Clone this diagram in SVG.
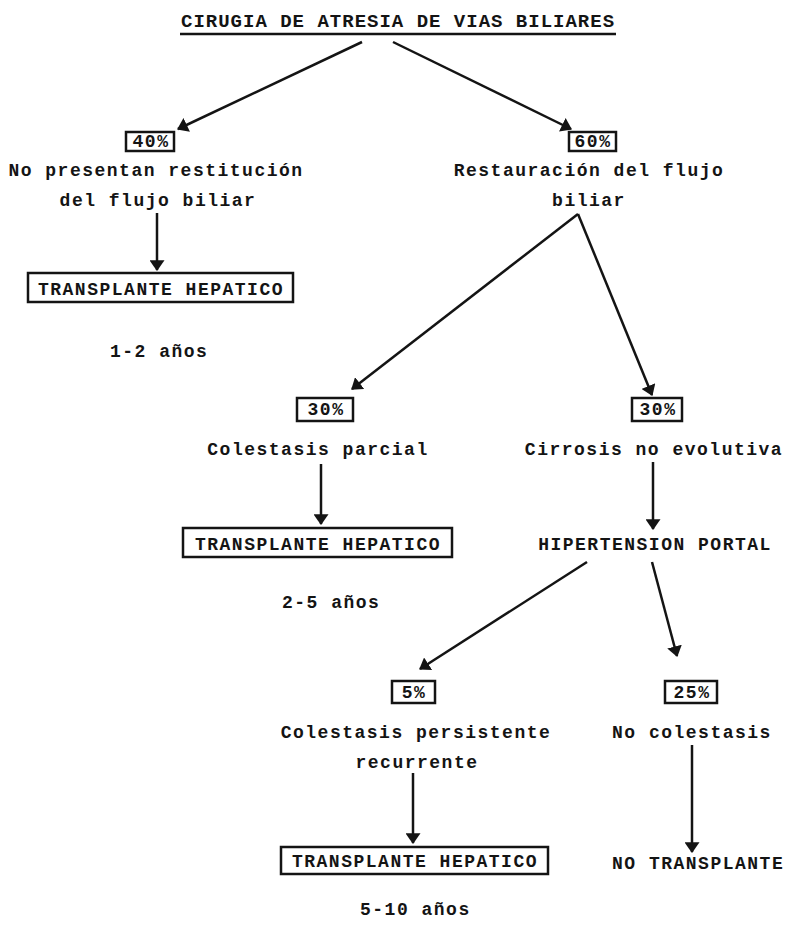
<svg xmlns="http://www.w3.org/2000/svg" width="789" height="930" viewBox="0 0 789 930">
<style>
.t{font-family:"Liberation Mono","Courier New",monospace;font-weight:bold;font-size:18px;letter-spacing:1.5px;fill:#141414}
.ti{font-size:19px;letter-spacing:1px}
.bx{fill:none;stroke:#141414;stroke-width:2.5}
.c line{stroke:#141414;stroke-width:2.5;marker-end:url(#ah)}
</style>
<defs>
<marker id="ah" viewBox="0 0 10 14" refX="9" refY="7" markerWidth="11" markerHeight="15" markerUnits="userSpaceOnUse" orient="auto">
<path d="M0,0 L10,7 L0,14 z" fill="#141414"/>
</marker>
</defs>
<rect width="789" height="930" fill="#fff"/>
<g id="title">
<text class="t ti" x="181" y="27">CIRUGIA DE ATRESIA DE VIAS BILIARES</text>
<line x1="180" y1="34" x2="616" y2="34" stroke="#141414" stroke-width="2.5"/>
</g>
<g id="n40">
<rect class="bx" x="126" y="132" width="48" height="19"/>
<text class="t" x="151" y="147" text-anchor="middle">40%</text>
</g>
<g id="n60">
<rect class="bx" x="569" y="132" width="47" height="19"/>
<text class="t" x="593" y="147" text-anchor="middle">60%</text>
</g>
<g id="noRest">
<text class="t" x="156" y="176" text-anchor="middle">No presentan restitución</text>
<text class="t" x="158" y="206" text-anchor="middle">del flujo biliar</text>
</g>
<g id="rest">
<text class="t" x="589" y="176" text-anchor="middle">Restauración del flujo</text>
<text class="t" x="589" y="206" text-anchor="middle">biliar</text>
</g>
<g id="tx1">
<rect class="bx" x="28" y="273" width="265" height="29"/>
<text class="t" x="161" y="295" text-anchor="middle">TRANSPLANTE HEPATICO</text>
</g>
<g id="y12"><text class="t" x="110" y="357">1-2 años</text></g>
<g id="n30a">
<rect class="bx" x="297" y="398" width="56" height="23"/>
<text class="t" x="326" y="415" text-anchor="middle">30%</text>
</g>
<g id="n30b">
<rect class="bx" x="632" y="398" width="50" height="23"/>
<text class="t" x="658" y="415" text-anchor="middle">30%</text>
</g>
<g id="colPar"><text class="t" x="318" y="455" text-anchor="middle">Colestasis parcial</text></g>
<g id="cirr"><text class="t" x="654" y="455" text-anchor="middle">Cirrosis no evolutiva</text></g>
<g id="tx2">
<rect class="bx" x="183" y="528" width="269" height="29"/>
<text class="t" x="318" y="550" text-anchor="middle">TRANSPLANTE HEPATICO</text>
</g>
<g id="hip"><text class="t" x="655" y="550" text-anchor="middle">HIPERTENSION PORTAL</text></g>
<g id="y25"><text class="t" x="282" y="608">2-5 años</text></g>
<g id="n5">
<rect class="bx" x="392" y="681" width="43" height="22"/>
<text class="t" x="414" y="698" text-anchor="middle">5%</text>
</g>
<g id="n25">
<rect class="bx" x="665" y="681" width="52" height="22"/>
<text class="t" x="692" y="698" text-anchor="middle">25%</text>
</g>
<g id="colPer">
<text class="t" x="416" y="738" text-anchor="middle">Colestasis persistente</text>
<text class="t" x="417" y="768" text-anchor="middle">recurrente</text>
</g>
<g id="noCol"><text class="t" x="612" y="738">No colestasis</text></g>
<g id="tx3">
<rect class="bx" x="281" y="847" width="267" height="27"/>
<text class="t" x="415" y="867" text-anchor="middle">TRANSPLANTE HEPATICO</text>
</g>
<g id="noTx"><text class="t" x="612" y="869">NO TRANSPLANTE</text></g>
<g id="y510"><text class="t" x="360" y="915">5-10 años</text></g>
<g id="connectors" class="c">
<line x1="362" y1="42" x2="178" y2="129"/>
<line x1="393" y1="42" x2="571" y2="129"/>
<line x1="157" y1="213" x2="157" y2="270"/>
<line x1="578" y1="214" x2="352" y2="389"/>
<line x1="578" y1="214" x2="652" y2="395"/>
<line x1="321" y1="464" x2="321" y2="524"/>
<line x1="653" y1="462" x2="653" y2="529"/>
<line x1="587" y1="562" x2="420" y2="669"/>
<line x1="652" y1="562" x2="677" y2="656"/>
<line x1="413" y1="773" x2="413" y2="843"/>
<line x1="692" y1="745" x2="692" y2="852"/>
</g>
</svg>
